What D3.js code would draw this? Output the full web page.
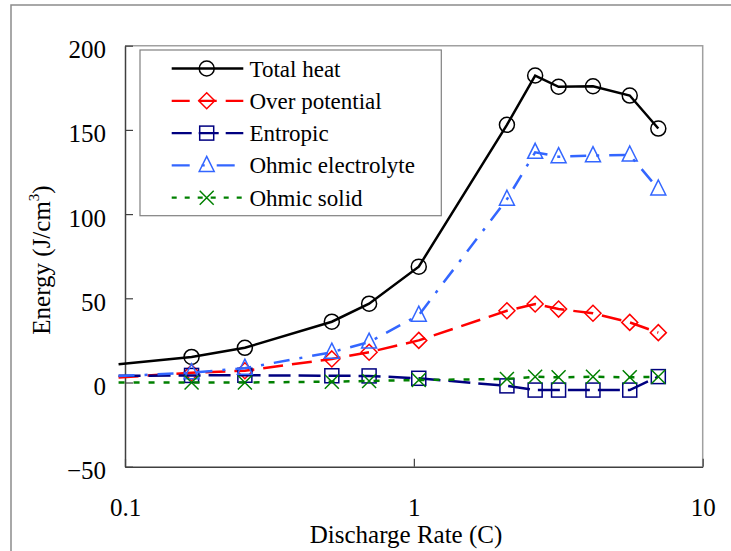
<!DOCTYPE html>
<html>
<head>
<meta charset="utf-8">
<script src="https://cdn.jsdelivr.net/npm/d3@7"></script>
<style>
  html, body { margin: 0; padding: 0; background: #fff; }
  svg { display: block; font-family: "Liberation Serif", serif; }
  svg text { font-family: "Liberation Serif", serif !important; fill: #000; }
</style>
</head>
<body>
<svg id="chart" width="731" height="551" font-family="Liberation Serif, serif"></svg>
<script>
// Discharge rates (C); the first entry starts the curves just left of the axis
const rates = [0.095, 0.17, 0.26, 0.52, 0.70, 1.04, 2.1, 2.63, 3.17, 4.17, 5.59, 7.02];

// Heat generated over the discharge (J/cm3)
const totalHeat         = [10.8, 15.2, 20.6, 36.1, 46.8, 68.8, 153.0, 182.3, 175.6, 175.9, 170.4, 150.8];
const overPotential     = [3.0, 5.8, 7.0, 14.0, 18.0, 25.0, 42.6, 46.6, 43.6, 41.1, 35.7, 29.6];
const entropic          = [4.0, 4.2, 4.3, 4.0, 3.9, 2.5, -2.0, -4.5, -4.5, -4.5, -4.5, 3.5];
const ohmicElectrolyte  = [3.8, 5.8, 8.5, 18.0, 24.0, 40.0, 108.8, 136.7, 134.1, 134.7, 135.1, 114.9];
const ohmicSolid        = [0.0, 0.0, 0.0, 0.5, 0.9, 1.5, 2.1, 3.4, 3.1, 3.4, 3.1, 3.4];

const seriesNames = ["Total heat", "Over potential", "Entropic", "Ohmic electrolyte", "Ohmic solid"];
const yTicks = [-50, 0, 50, 100, 150, 200];
const xTicks = [0.1, 1, 10];

const seriesValues = [totalHeat, overPotential, entropic, ohmicElectrolyte, ohmicSolid];
const styles = [
  { color: "#000000", dash: null,          marker: "circle" },
  { color: "#ff0000", dash: "20,9",        marker: "diamond" },
  { color: "#000080", dash: "22,8",        marker: "square" },
  { color: "#3366ff", dash: "16,10,3,10",  marker: "triangle" },
  { color: "#008000", dash: "6,9",         marker: "cross" }
];

const FONT = "Liberation Serif, serif";
const svg = d3.select("#chart");
const plot = { left: 125, right: 702.7, top: 45.7, bottom: 466.7 };

const x = d3.scaleLog().domain([0.1, 10]).range([plot.left, plot.right]);
const y = d3.scaleLinear().domain([-50, 200]).range([plot.bottom, plot.top]);

// outer chart frame (top and left edges)
svg.append("path")
  .attr("d", "M11,551 L11,5 L731,5")
  .attr("fill", "none").attr("stroke", "#8c8c8c").attr("stroke-width", 1.5);

// plot area: light top/right border
svg.append("path")
  .attr("d", `M${plot.left},${plot.top} L${plot.right},${plot.top} L${plot.right},${plot.bottom}`)
  .attr("fill", "none").attr("stroke", "#a0a0a0").attr("stroke-width", 1.5);

// y axis
const yAxis = svg.append("g")
  .attr("transform", `translate(${plot.left},0)`)
  .call(d3.axisLeft(y).tickValues(yTicks).tickSizeInner(-8).tickSizeOuter(0).tickPadding(19)
        .tickFormat(d3.format("d")));
yAxis.attr("font-family", FONT).attr("font-size", 25);
yAxis.select(".domain").attr("stroke", "#404040").attr("stroke-width", 1.5);
yAxis.selectAll(".tick line").attr("stroke", "#404040").attr("stroke-width", 1.2);
yAxis.selectAll(".tick text")
  .attr("font-family", FONT).attr("font-size", 25).attr("dy", "0.48em").attr("fill", "#000");

// x axis (log)
const xAxis = svg.append("g")
  .attr("transform", `translate(0,${plot.bottom})`)
  .call(d3.axisBottom(x).tickValues(xTicks).tickSizeInner(-8).tickSizeOuter(0).tickPadding(31.5)
        .tickFormat(d => String(d)));
xAxis.attr("font-family", FONT).attr("font-size", 25);
xAxis.select(".domain").attr("stroke", "#404040").attr("stroke-width", 1.5);
xAxis.selectAll(".tick line").attr("stroke", "#404040").attr("stroke-width", 1.2);
xAxis.selectAll(".tick text")
  .attr("font-family", FONT).attr("font-size", 25).attr("fill", "#000");

// axis titles
svg.append("text")
  .attr("x", 406).attr("y", 543)
  .attr("text-anchor", "middle").attr("font-family", FONT).attr("font-size", 25)
  .text("Discharge Rate (C)");

const yTitle = svg.append("text")
  .attr("transform", "translate(50,260) rotate(-90)")
  .attr("text-anchor", "middle").attr("font-family", FONT).attr("font-size", 25);
yTitle.append("tspan").text("Energy (J/cm");
yTitle.append("tspan").attr("font-size", 15).attr("dy", -11).text("3");
yTitle.append("tspan").attr("dy", 11).text(")");

// marker shapes centred on (0,0)
function drawMarker(g, type, color) {
  const common = sel => sel.attr("fill", "none").attr("stroke", color).attr("stroke-width", 1.5);
  if (type === "circle") {
    g.append("circle").attr("r", 7.5).call(common);
  } else if (type === "diamond") {
    g.append("path").attr("d", "M0,-8 L8,0 L0,8 L-8,0 Z").call(common);
  } else if (type === "square") {
    g.append("rect").attr("x", -7).attr("y", -7).attr("width", 14).attr("height", 14).call(common);
  } else if (type === "triangle") {
    g.append("path").attr("d", "M0,-9 L7.5,6 L-7.5,6 Z").call(common);
  } else if (type === "cross") {
    g.append("path").attr("d", "M-7,-7 L7,7 M-7,7 L7,-7").call(common);
  }
}

const line = d3.line().x(d => x(d.rate)).y(d => y(d.value));

seriesValues.forEach((vals, i) => {
  const st = styles[i];
  const pts = rates.map((r, j) => ({ rate: r, value: vals[j] }));
  svg.append("path")
    .datum(pts)
    .attr("d", line)
    .attr("fill", "none")
    .attr("stroke", st.color)
    .attr("stroke-width", 2.5)
    .attr("stroke-dasharray", st.dash);

  // markers only for points inside the axis range
  pts.filter(p => p.rate >= 0.1).forEach(p => {
    const g = svg.append("g").attr("transform", `translate(${x(p.rate)},${y(p.value)})`);
    drawMarker(g, st.marker, st.color);
  });
});

// legend
const legend = svg.append("g");
legend.append("rect")
  .attr("x", 140).attr("y", 50).attr("width", 301.3).attr("height", 165.7)
  .attr("fill", "#fff").attr("stroke", "#808080").attr("stroke-width", 1.2);

const legendDash = [null, "18,9", "20,7", "18,12,3,12", "5,8"];
seriesNames.forEach((name, i) => {
  const cy = 68.5 + i * 32.3;
  const st = styles[i];
  legend.append("line")
    .attr("x1", 171.7).attr("x2", 243.3).attr("y1", cy).attr("y2", cy)
    .attr("stroke", st.color).attr("stroke-width", 2.3)
    .attr("stroke-dasharray", legendDash[i]);
  const g = legend.append("g").attr("transform", `translate(206.7,${cy})`);
  drawMarker(g, st.marker, st.color);
  legend.append("text")
    .attr("x", 249.5).attr("y", cy + 8)
    .attr("font-family", FONT).attr("font-size", 23)
    .text(name);
});
</script>
</body>
</html>
